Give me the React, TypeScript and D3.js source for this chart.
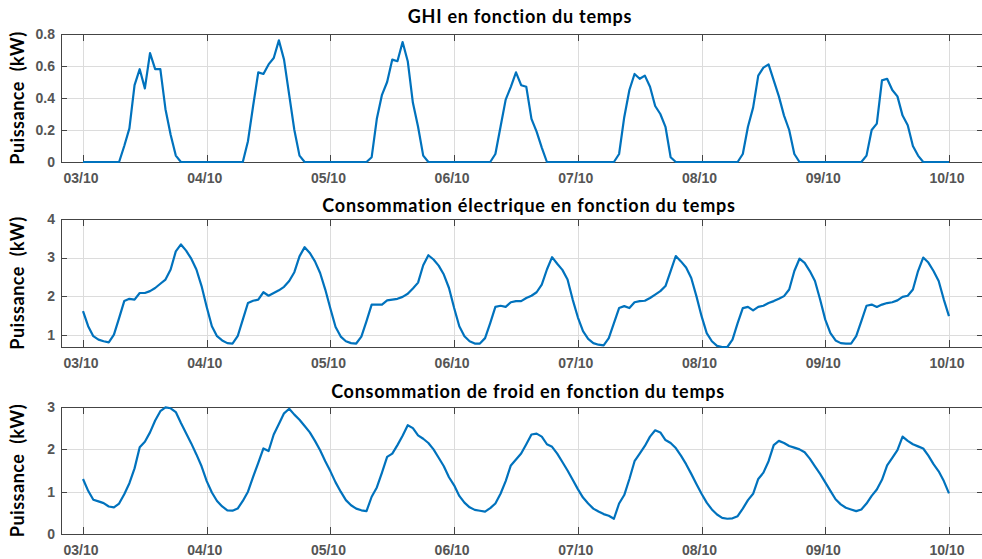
import React, { useEffect, useRef } from 'react';
import * as d3 from 'd3';

// hourly samples, 03/10 00:00 -> 10/10 00:00 (169 points), one row per day
const ghiValues: number[] = [
  0, 0, 0, 0, 0, 0, 0, 0, 0.1, 0.21, 0.48, 0.58, 0.46, 0.68, 0.58, 0.58, 0.33, 0.17, 0.04, 0, 0, 0, 0, 0,
  0, 0, 0, 0, 0, 0, 0, 0, 0.13, 0.35, 0.56, 0.55, 0.61, 0.65, 0.76, 0.64, 0.42, 0.2, 0.04, 0, 0, 0, 0, 0,
  0, 0, 0, 0, 0, 0, 0, 0, 0.03, 0.27, 0.42, 0.5, 0.64, 0.63, 0.75, 0.63, 0.37, 0.22, 0.04, 0, 0, 0, 0, 0,
  0, 0, 0, 0, 0, 0, 0, 0, 0.05, 0.22, 0.39, 0.47, 0.56, 0.48, 0.47, 0.27, 0.19, 0.09, 0, 0, 0, 0, 0, 0,
  0, 0, 0, 0, 0, 0, 0, 0, 0.05, 0.28, 0.45, 0.55, 0.52, 0.54, 0.47, 0.35, 0.3, 0.22, 0.03, 0, 0, 0, 0, 0,
  0, 0, 0, 0, 0, 0, 0, 0, 0.05, 0.22, 0.34, 0.54, 0.59, 0.61, 0.51, 0.41, 0.29, 0.2, 0.05, 0, 0, 0, 0, 0,
  0, 0, 0, 0, 0, 0, 0, 0, 0.04, 0.2, 0.24, 0.51, 0.52, 0.45, 0.41, 0.29, 0.23, 0.1, 0.04, 0, 0, 0, 0, 0,
  0,
];

const elecValues: number[] = [
  1.61, 1.22, 0.96, 0.87, 0.83, 0.8, 1.0, 1.43, 1.87, 1.93, 1.91, 2.08, 2.08, 2.13, 2.21, 2.32, 2.43, 2.69, 3.16, 3.34, 3.18, 2.97, 2.69, 2.26,
  1.72, 1.22, 0.96, 0.85, 0.78, 0.77, 0.96, 1.39, 1.82, 1.88, 1.91, 2.1, 2.01, 2.08, 2.15, 2.24, 2.39, 2.62, 3.03, 3.27, 3.12, 2.9, 2.6, 2.17,
  1.67, 1.2, 0.95, 0.83, 0.78, 0.77, 0.95, 1.35, 1.78, 1.78, 1.78, 1.89, 1.91, 1.93, 1.98, 2.06, 2.2, 2.35, 2.8, 3.06, 2.95, 2.79, 2.56, 2.21,
  1.69, 1.22, 0.96, 0.83, 0.77, 0.77, 0.91, 1.3, 1.72, 1.75, 1.72, 1.84, 1.87, 1.87, 1.95, 2.01, 2.1, 2.3, 2.69, 3.01, 2.84, 2.68, 2.43, 1.91,
  1.45, 1.09, 0.89, 0.78, 0.74, 0.72, 0.91, 1.3, 1.69, 1.74, 1.69, 1.84, 1.87, 1.88, 1.95, 2.04, 2.13, 2.26, 2.65, 3.04, 2.9, 2.74, 2.47, 2.0,
  1.48, 1.04, 0.83, 0.71, 0.68, 0.68, 0.87, 1.3, 1.69, 1.72, 1.63, 1.72, 1.75, 1.82, 1.87, 1.93, 2.0, 2.17, 2.65, 2.97, 2.86, 2.65, 2.39, 1.91,
  1.39, 1.04, 0.85, 0.78, 0.77, 0.77, 0.96, 1.35, 1.75, 1.78, 1.72, 1.78, 1.82, 1.84, 1.89, 1.98, 2.01, 2.17, 2.65, 3.0, 2.87, 2.65, 2.39, 1.91,
  1.48,
];

const froidValues: number[] = [
  1.3, 1.02, 0.81, 0.77, 0.73, 0.65, 0.63, 0.72, 0.94, 1.2, 1.55, 2.05, 2.18, 2.4, 2.68, 2.9, 2.99, 2.97, 2.88, 2.62, 2.38, 2.14, 1.88, 1.6,
  1.25, 0.98, 0.78, 0.65, 0.56, 0.55, 0.6, 0.78, 1.0, 1.35, 1.68, 2.02, 1.96, 2.35, 2.6, 2.85, 2.96, 2.82, 2.7, 2.55, 2.4, 2.2, 1.98, 1.72,
  1.48, 1.22, 1.0, 0.8, 0.68, 0.6, 0.56, 0.54, 0.88, 1.1, 1.45, 1.82, 1.9, 2.1, 2.32, 2.57, 2.5, 2.33, 2.25, 2.15, 2.0, 1.8, 1.6, 1.34,
  1.15, 0.9, 0.74, 0.63, 0.57, 0.55, 0.53, 0.61, 0.72, 0.95, 1.25, 1.62, 1.76, 1.9, 2.12, 2.35, 2.37, 2.3, 2.12, 2.06, 1.9, 1.7, 1.5, 1.28,
  1.06, 0.86, 0.72, 0.6, 0.53, 0.47, 0.43, 0.36, 0.72, 0.92, 1.3, 1.72, 1.9, 2.08, 2.3, 2.45, 2.4, 2.22, 2.15, 2.03, 1.85, 1.65, 1.42, 1.18,
  0.95, 0.74, 0.58, 0.46, 0.38, 0.36, 0.37, 0.42, 0.6, 0.8, 0.95, 1.3, 1.45, 1.72, 2.1, 2.2, 2.15, 2.08, 2.04, 2.0, 1.93, 1.78, 1.6, 1.42,
  1.22, 1.02, 0.82, 0.7, 0.62, 0.58, 0.54, 0.58, 0.72, 0.9, 1.05, 1.28, 1.62, 1.8, 1.98, 2.3, 2.2, 2.12, 2.07, 2.02, 1.85, 1.65, 1.48, 1.25,
  0.96,
];

const ghiTicks = [0, 0.2, 0.4, 0.6, 0.8];
const elecTicks = [1, 2, 3, 4];
const froidTicks = [0, 1, 2, 3];

const titles = [
  'GHI en fonction du temps',
  'Consommation électrique en fonction du temps',
  'Consommation de froid en fonction du temps',
];
const yLabel = 'Puissance  (kW)';

const startDate = new Date(2019, 9, 3);
const endDate = new Date(2019, 9, 10);
const times = ghiValues.map((_, h) => d3.timeHour.offset(startDate, h));

const W = 982, H = 559;
const left = 61, right = 983;
const HOUR = 3600 * 1000;

const panels = [
  { values: ghiValues, ticks: ghiTicks, domain: [0, 0.8], top: 34, bottom: 162, title: titles[0], titleX: 520, titleY: 23 },
  { values: elecValues, ticks: elecTicks, domain: [0.68, 4], top: 219, bottom: 347, title: titles[1], titleX: 529, titleY: 212 },
  { values: froidValues, ticks: froidTicks, domain: [0, 3], top: 407, bottom: 534, title: titles[2], titleX: 528, titleY: 398 },
];

export default function App() {
  const ref = useRef<SVGSVGElement>(null);

  useEffect(() => {
    const svg = d3.select(ref.current);
    svg.selectAll('*').remove();

    const x = d3.scaleTime()
      .domain([new Date(startDate.getTime() - 4.27 * HOUR), new Date(endDate.getTime() + 6.6 * HOUR)])
      .range([left, right]);
    const days = d3.timeDay.range(startDate, d3.timeDay.offset(endDate, 1));
    const fmt = d3.timeFormat('%d/%m');
    const px = (v: number) => Math.round(v) + 0.5;

    panels.forEach((p, i) => {
      const y = d3.scaleLinear().domain(p.domain).range([p.bottom, p.top]);
      const g = svg.append('g');

      // grid
      g.selectAll('line.vg').data(days).join('line')
        .attr('class', 'vg')
        .attr('x1', d => px(x(d))).attr('x2', d => px(x(d)))
        .attr('y1', p.top).attr('y2', p.bottom)
        .attr('stroke', '#dcdcdc');
      g.selectAll('line.hg').data(p.ticks).join('line')
        .attr('class', 'hg')
        .attr('x1', left).attr('x2', right)
        .attr('y1', d => px(y(d))).attr('y2', d => px(y(d)))
        .attr('stroke', '#dcdcdc');

      // box + inward ticks
      g.append('rect')
        .attr('x', left + 0.5).attr('y', p.top + 0.5)
        .attr('width', right - left).attr('height', p.bottom - p.top)
        .attr('fill', 'none').attr('stroke', '#444');
      days.forEach(d => {
        g.append('line').attr('x1', px(x(d))).attr('x2', px(x(d)))
          .attr('y1', p.bottom).attr('y2', p.bottom - 7).attr('stroke', '#444');
        g.append('line').attr('x1', px(x(d))).attr('x2', px(x(d)))
          .attr('y1', p.top).attr('y2', p.top + 7).attr('stroke', '#444');
      });
      p.ticks.forEach(t => {
        g.append('line').attr('x1', left).attr('x2', left + 6)
          .attr('y1', px(y(t))).attr('y2', px(y(t))).attr('stroke', '#444');
        g.append('line').attr('x1', right - 6).attr('x2', right)
          .attr('y1', px(y(t))).attr('y2', px(y(t))).attr('stroke', '#444');
      });

      // data
      svg.append('clipPath').attr('id', `clip${i}`)
        .append('rect')
        .attr('x', left).attr('y', p.top - 2)
        .attr('width', right - left).attr('height', p.bottom - p.top + 4);
      const line = d3.line<number>()
        .x((_, j) => x(times[j]))
        .y(d => y(d));
      g.append('path')
        .datum(p.values)
        .attr('d', line)
        .attr('fill', 'none')
        .attr('stroke', '#0072BD')
        .attr('stroke-width', 2.2)
        .attr('stroke-linejoin', 'round')
        .attr('clip-path', `url(#clip${i})`);

      // tick labels
      g.selectAll('text.xt').data(days).join('text')
        .attr('class', 'xt')
        .attr('x', d => x(d) - 2).attr('y', p.bottom + 21)
        .attr('text-anchor', 'middle')
        .attr('font-family', 'Liberation Sans, Arial, sans-serif')
        .attr('font-weight', 'bold')
        .attr('font-size', 14)
        .attr('fill', '#555')
        .text(d => fmt(d));
      g.selectAll('text.yt').data(p.ticks).join('text')
        .attr('class', 'yt')
        .attr('x', left - 6).attr('y', d => y(d))
        .attr('dy', '0.35em')
        .attr('text-anchor', 'end')
        .attr('font-family', 'Liberation Sans, Arial, sans-serif')
        .attr('font-weight', 'bold')
        .attr('font-size', 14)
        .attr('fill', '#555')
        .text(d => String(d));

      // y label
      g.append('text')
        .attr('transform', `translate(24, ${(p.top + p.bottom) / 2}) rotate(-90)`)
        .attr('text-anchor', 'middle')
        .attr('font-family', 'Lato, sans-serif')
        .attr('font-weight', 'bold')
        .attr('font-size', 18)
        .attr('letter-spacing', 0.5)
        .attr('fill', '#000')
        .style('white-space', 'pre')
        .text(yLabel);

      // title
      g.append('text')
        .attr('x', p.titleX).attr('y', p.titleY)
        .attr('text-anchor', 'middle')
        .attr('font-family', 'Lato, sans-serif')
        .attr('font-weight', 'bold')
        .attr('font-size', 18)
        .attr('letter-spacing', 0.75)
        .attr('fill', '#000')
        .text(p.title);
    });
  }, []);

  return (
    <svg
      ref={ref}
      width={W}
      height={H}
      style={{ position: 'absolute', left: 0, top: 0, background: '#fff' }}
    />
  );
}
